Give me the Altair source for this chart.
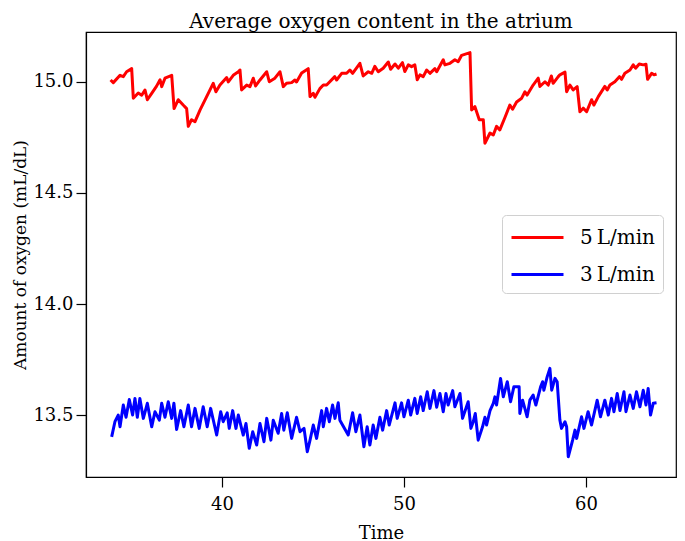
import altair as alt
import pandas as pd

# 5 L/min series (time, oxygen content)
t5 = [33.88, 34.03, 34.40, 34.58, 34.76, 35.04, 35.13, 35.40, 35.59, 35.77, 35.90, 36.14, 36.40, 36.60, 36.69,
      36.87, 37.24, 37.37, 37.60, 37.87, 38.06, 38.15, 38.33, 38.52, 38.80, 39.16, 39.52, 39.67, 39.89, 40.26,
      40.35, 40.62, 40.90, 40.99, 41.08, 41.36, 41.54, 41.72, 41.85, 42.09, 42.46, 42.60, 42.91, 43.19, 43.37,
      43.55, 43.83, 44.01, 44.10, 44.38, 44.74, 44.84, 45.02, 45.11, 45.38, 45.57, 45.75, 46.20, 46.30, 46.58,
      46.85, 47.03, 47.18, 47.58, 47.76, 48.04, 48.23, 48.40, 48.59, 48.86, 49.14, 49.27, 49.51, 49.69, 49.92,
      50.05, 50.24, 50.42, 50.60, 50.73, 50.88, 51.06, 51.25, 51.43, 51.70, 51.80, 52.16, 52.25, 52.53, 52.80,
      52.98, 53.17, 53.63, 53.72, 53.90, 54.14, 54.36, 54.45, 54.73, 54.91, 55.09, 55.27, 55.55, 55.82, 55.97,
      56.19, 56.47, 56.65, 56.77, 57.10, 57.38, 57.47, 57.75, 57.93, 58.10, 58.20, 58.48, 58.57, 58.85, 58.94,
      59.12, 59.30, 59.52, 59.67, 59.85, 60.04, 60.31, 60.44, 60.68, 61.04, 61.17, 61.32, 61.59, 61.84, 61.96,
      62.14, 62.42, 62.60, 62.73, 62.93, 63.15, 63.30, 63.39, 63.61, 63.74, 63.88]
v5 = [15.009, 14.997, 15.030, 15.024, 15.046, 15.060, 14.927, 14.950, 14.940, 14.964, 14.920, 14.949, 14.980, 15.010, 14.979,
      15.017, 15.030, 14.880, 14.920, 14.896, 14.880, 14.800, 14.830, 14.821, 14.874, 14.934, 14.994, 14.956, 14.986, 15.020,
      15.000, 15.030, 15.046, 15.054, 14.964, 14.986, 14.979, 15.017, 14.982, 15.009, 15.046, 15.001, 15.017, 15.046, 14.979,
      14.994, 14.997, 15.009, 15.000, 15.040, 15.060, 14.934, 14.949, 14.931, 14.970, 14.986, 14.986, 15.024, 15.009, 15.039,
      15.039, 15.054, 15.039, 15.084, 15.027, 15.046, 15.039, 15.070, 15.046, 15.062, 15.090, 15.057, 15.081, 15.062, 15.087,
      15.047, 15.077, 15.069, 15.077, 15.010, 15.032, 15.024, 15.054, 15.039, 15.060, 15.046, 15.100, 15.077, 15.084, 15.100,
      15.091, 15.120, 15.132, 14.874, 14.889, 14.830, 14.830, 14.724, 14.770, 14.761, 14.800, 14.784, 14.840, 14.896, 14.877,
      14.910, 14.927, 14.956, 14.941, 14.986, 15.017, 14.980, 15.001, 14.986, 15.027, 14.994, 15.024, 15.032, 15.044, 14.956,
      14.986, 14.964, 14.979, 14.866, 14.882, 14.866, 14.920, 14.896, 14.934, 14.980, 14.964, 14.986, 15.001, 15.024, 15.012,
      15.039, 15.054, 15.077, 15.062, 15.081, 15.077, 15.080, 15.012, 15.039, 15.032, 15.036]

# 3 L/min series (time, oxygen content)
t3 = [33.94, 34.12, 34.30, 34.40, 34.58, 34.73, 34.91, 35.09, 35.22, 35.35, 35.49, 35.68, 35.90, 36.14, 36.32,
      36.56, 36.69, 36.87, 37.05, 37.24, 37.36, 37.51, 37.73, 37.91, 38.15, 38.33, 38.52, 38.75, 38.97, 39.19,
      39.38, 39.71, 39.93, 40.07, 40.29, 40.40, 40.59, 40.77, 40.90, 41.17, 41.32, 41.50, 41.69, 41.91, 42.09,
      42.31, 42.46, 42.69, 42.82, 43.09, 43.28, 43.40, 43.59, 43.83, 44.10, 44.29, 44.51, 44.69, 44.84, 45.02,
      45.20, 45.48, 45.57, 45.75, 45.90, 46.08, 46.21, 46.39, 46.48, 46.94, 47.18, 47.36, 47.58, 47.80, 47.98,
      48.13, 48.31, 48.46, 48.68, 48.83, 49.05, 49.19, 49.51, 49.63, 49.87, 50.00, 50.24, 50.37, 50.60, 50.73,
      50.92, 51.06, 51.28, 51.43, 51.65, 51.80, 51.98, 52.16, 52.31, 52.43, 52.68, 52.80, 53.08, 53.22, 53.53,
      53.68, 53.81, 53.92, 54.08, 54.32, 54.45, 54.54, 54.73, 54.91, 55.00, 55.09, 55.31, 55.46, 55.68, 55.86,
      56.04, 56.33, 56.37, 56.52, 56.77, 56.92, 57.10, 57.25, 57.51, 57.62, 57.69, 57.87, 58.02, 58.12, 58.30,
      58.42, 58.57, 58.66, 58.85, 58.94, 59.03, 59.27, 59.40, 59.49, 59.76, 59.89, 60.12, 60.31, 60.62, 60.80,
      61.04, 61.23, 61.41, 61.54, 61.72, 61.87, 62.09, 62.20, 62.42, 62.60, 62.78, 62.97, 63.15, 63.30, 63.42,
      63.55, 63.70, 63.88]
v3 = [13.402, 13.470, 13.500, 13.447, 13.545, 13.490, 13.570, 13.500, 13.575, 13.490, 13.575, 13.485, 13.553, 13.447, 13.515,
      13.477, 13.553, 13.490, 13.560, 13.485, 13.553, 13.435, 13.520, 13.447, 13.545, 13.447, 13.530, 13.440, 13.537, 13.447,
      13.530, 13.410, 13.515, 13.470, 13.510, 13.440, 13.520, 13.440, 13.500, 13.410, 13.462, 13.350, 13.425, 13.365, 13.462,
      13.380, 13.485, 13.387, 13.477, 13.418, 13.507, 13.432, 13.510, 13.395, 13.490, 13.425, 13.440, 13.335, 13.387, 13.455,
      13.395, 13.520, 13.447, 13.530, 13.470, 13.545, 13.485, 13.555, 13.477, 13.410, 13.510, 13.425, 13.500, 13.357, 13.447,
      13.365, 13.455, 13.395, 13.490, 13.432, 13.520, 13.455, 13.555, 13.485, 13.555, 13.492, 13.567, 13.500, 13.575, 13.507,
      13.582, 13.520, 13.605, 13.530, 13.610, 13.535, 13.597, 13.515, 13.597, 13.545, 13.610, 13.537, 13.597, 13.485, 13.560,
      13.440, 13.470, 13.507, 13.387, 13.447, 13.490, 13.455, 13.520, 13.553, 13.582, 13.545, 13.665, 13.582, 13.650, 13.560,
      13.627, 13.627, 13.507, 13.567, 13.492, 13.567, 13.590, 13.545, 13.627, 13.650, 13.612, 13.672, 13.710, 13.612, 13.665,
      13.650, 13.477, 13.440, 13.470, 13.447, 13.312, 13.387, 13.432, 13.395, 13.492, 13.440, 13.515, 13.455, 13.567, 13.492,
      13.567, 13.500, 13.575, 13.515, 13.597, 13.520, 13.605, 13.515, 13.590, 13.530, 13.605, 13.537, 13.612, 13.545, 13.620,
      13.500, 13.553, 13.555]

labels = ["5\u2009L/min", "3\u2009L/min"]
colors = ["#ff0000", "#0000ff"]
x_ticks = [40, 50, 60]
y_ticks = [13.5, 14.0, 14.5, 15.0]

rows = []
for i, (t, v) in enumerate(zip(t5, v5)):
    rows.append({"t": t, "v": v, "series": labels[0], "i": i})
for i, (t, v) in enumerate(zip(t3, v3)):
    rows.append({"t": t, "v": v, "series": labels[1], "i": i})
df = pd.DataFrame(rows)

FONT = "DejaVu Serif"

chart = alt.Chart(df).mark_line(strokeWidth=3, strokeJoin="round").encode(
    x=alt.X("t:Q", title="Time",
            scale=alt.Scale(domain=[32.53, 64.95], nice=False, zero=False),
            axis=alt.Axis(values=x_ticks, format="d", grid=False, tickSize=10,
                          labelFontSize=18, titleFontSize=18, titlePadding=11,
                          labelPadding=8)),
    y=alt.Y("v:Q", title="Amount of oxygen (mL/dL)",
            scale=alt.Scale(domain=[13.221, 15.225], nice=False, zero=False),
            axis=alt.Axis(values=y_ticks, format=".1f", grid=False, tickSize=10,
                          labelFontSize=18, titleFontSize=17, titlePadding=3,
                          labelPadding=3)),
    color=alt.Color("series:N",
                    scale=alt.Scale(domain=labels, range=colors),
                    legend=alt.Legend(title=None, orient="none", legendX=416, legendY=183,
                                      symbolType="M-1,0H3", symbolSize=676, symbolStrokeWidth=3,
                                      labelFontSize=20, labelFont=FONT, labelOffset=41,
                                      strokeColor="#d0d0d0", fillColor="white", cornerRadius=4,
                                      padding=8, rowPadding=12, labelColor="black")),
    order="i:Q",
    detail="series:N",
).properties(
    width=590,
    height=445,
    title=alt.Title("Average oxygen content in the atrium", fontSize=20, font=FONT,
                    fontWeight="normal", offset=0, color="black"),
    autosize=alt.AutoSizeParams(type="none"),
    padding={"left": 78, "top": 24, "right": 1, "bottom": 64},
).configure(
    font=FONT,
).configure_axis(
    domainColor="black", tickColor="black", labelColor="black", titleColor="black",
    labelFont=FONT, titleFont=FONT, titleFontWeight="normal", domainWidth=1.2, tickWidth=1.2,
).configure_view(
    stroke="black", strokeWidth=1.2,
)

chart.save("out.html", embed_options={"renderer": "svg", "actions": False})
